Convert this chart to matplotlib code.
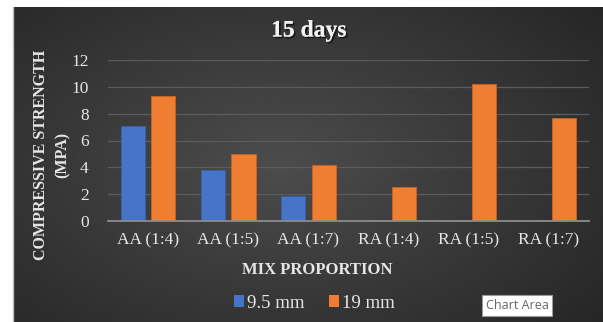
import numpy as np
import matplotlib.pyplot as plt
import matplotlib.patheffects as pe
from matplotlib.patches import Patch

# Compressive strength at 15 days, by mix proportion and aggregate size
categories = ['AA (1:4)', 'AA (1:5)', 'AA (1:7)', 'RA (1:4)', 'RA (1:5)', 'RA (1:7)']
strength_9_5mm = [7.1, 3.8, 1.9, np.nan, np.nan, np.nan]
strength_19mm = [9.3, 5.0, 4.2, 2.5, 10.2, 7.7]
series_labels = ['9.5 mm', '19 mm']

BLUE = '#4674c8'
ORANGE = '#ef7d32'
TEXT = '#e6e6e6'
SERIF = 'Liberation Serif'

W, H = 603, 322
fig = plt.figure(figsize=(W / 100, H / 100), dpi=100)
fig.patch.set_facecolor('white')

# dark chart area with a soft radial gradient
bg = fig.add_axes([13 / W, 0, 590 / W, 315 / H])
bg.set_axis_off()
yy, xx = np.mgrid[0:1:200j, 0:1:360j]
r = np.sqrt(((xx - 0.45) / 0.75) ** 2 + ((yy - 0.5) / 0.85) ** 2)
shade = np.clip(0.30 - 0.16 * r, 0.14, 0.30)
bg.imshow(shade, cmap='gray', vmin=0, vmax=1, aspect='auto',
          extent=[0, 1, 0, 1], interpolation='bicubic')
bg.set_xlim(0, 1)
bg.set_ylim(0, 1)
# thin light edge on the left of the chart area
fig.add_artist(plt.Line2D([13 / W, 13 / W], [0, 315 / H], color='#bdbdbd', linewidth=1.0))

ax = fig.add_axes([108 / W, 1 - 221 / H, 481 / W, 161 / H])
ax.set_facecolor('none')

x = np.arange(len(categories))
bw = 0.30
off = 0.19
ax.bar(x - off, strength_9_5mm, bw, color=BLUE, edgecolor='#3a5fa8', linewidth=0.6,
       label=series_labels[0], zorder=3)
ax.bar(x + off, strength_19mm, bw, color=ORANGE, edgecolor='#c9631f', linewidth=0.6,
       label=series_labels[1], zorder=3)

ax.set_xlim(-0.5, len(categories) - 0.5)
ax.set_ylim(0, 12)
ax.set_yticks(range(0, 13, 2))
ax.yaxis.grid(True, color='#5c5c5c', linewidth=0.9)
ax.set_axisbelow(True)
for s in ['top', 'right', 'left']:
    ax.spines[s].set_visible(False)
ax.spines['bottom'].set_color('#8c8c8c')
ax.spines['bottom'].set_linewidth(1.3)
ax.spines['bottom'].set_zorder(4)
ax.tick_params(length=0, colors=TEXT)
ax.set_xticks(x)
ax.set_xticklabels(categories, family=SERIF, fontsize=12.5, color=TEXT)
for lbl in ax.get_yticklabels():
    lbl.set_family(SERIF)
    lbl.set_fontsize(12.5)
    lbl.set_color(TEXT)
ax.tick_params(axis='x', pad=8)
ax.tick_params(axis='y', pad=14)

# titles
fig.text(309 / W, 1 - 31 / H, '15 days', family=SERIF, fontsize=17, fontweight='bold',
         color='#f2f2f2', ha='center', va='center',
         path_effects=[pe.withSimplePatchShadow(offset=(1.2, -1.2), shadow_rgbFace='black', alpha=0.6),
                       pe.Normal()])
fig.text(52 / W, 1 - 155 / H, 'COMPRESSIVE STRENGTH\n(MPA)', family=SERIF, fontsize=11.5,
         fontweight='bold', color=TEXT, rotation=90, ha='center', va='center',
         multialignment='center', linespacing=1.45)
fig.text(317 / W, 1 - 270 / H, 'MIX PROPORTION', family=SERIF, fontsize=12,
         fontweight='bold', color=TEXT, ha='center', va='center')

# legend
handles = [Patch(facecolor=BLUE), Patch(facecolor=ORANGE)]
leg = fig.legend(handles, series_labels, loc='center', bbox_to_anchor=(314 / W, 1 - 303 / H),
                 ncol=2, frameon=False, handlelength=0.55, handleheight=0.55,
                 handletextpad=0.15, columnspacing=1.3,
                 prop={'family': SERIF, 'size': 13.5})
for t in leg.get_texts():
    t.set_color(TEXT)

# hover tip
fig.text(517 / W, 1 - 305.5 / H, 'Chart Area', family='Open Sans', fontsize=9,
         color='#666666', ha='center', va='center',
         bbox=dict(boxstyle='square,pad=0.3', facecolor='white', edgecolor='#9a9a9a', linewidth=0.8))

fig.savefig('out.png', dpi=100, facecolor='white')
